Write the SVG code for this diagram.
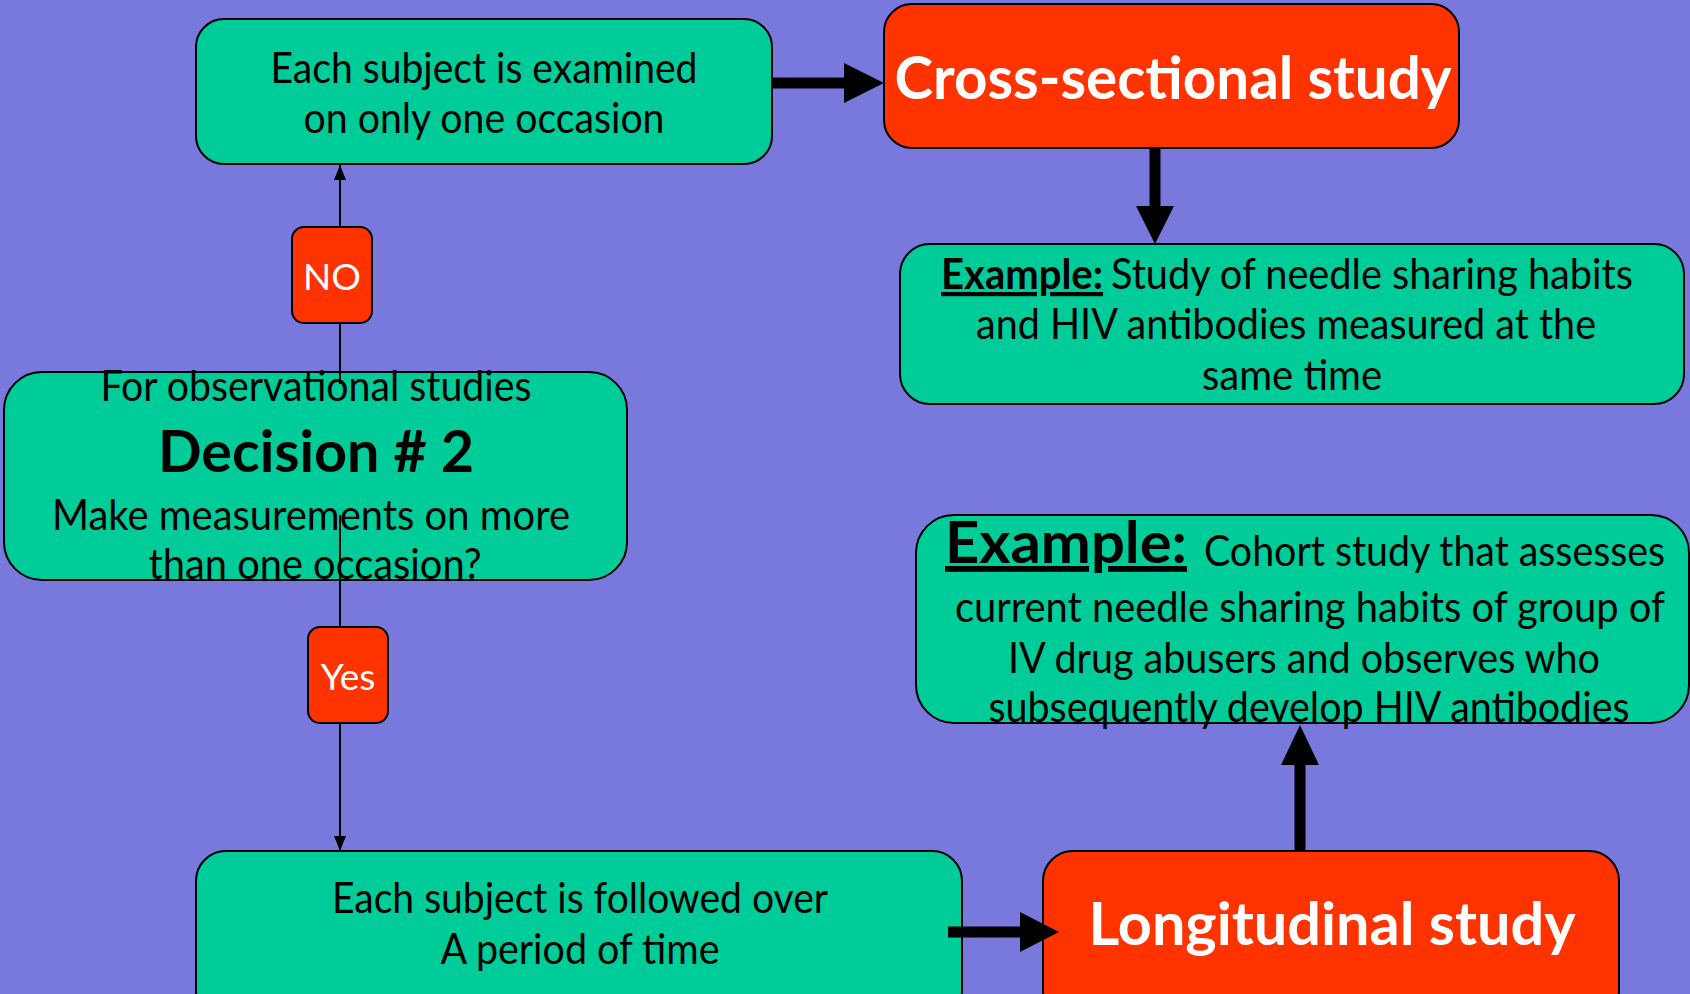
<svg xmlns="http://www.w3.org/2000/svg" width="1690" height="994" viewBox="0 0 1690 994">
<style>
.g{fill:#00CC99;stroke:#000;stroke-width:2}
.r{fill:#FF3300;stroke:#000;stroke-width:2}
text{font-family:Lato,"Open Sans","Liberation Sans",sans-serif}
.t{font-size:42px;fill:#000;text-anchor:middle}
.tl{font-size:42px;fill:#000}
.w{font-weight:bold;fill:#fff;text-anchor:middle;font-size:60px}
.s{font-size:37px;fill:#fff;text-anchor:middle}
.thin{stroke:#000;stroke-width:2;fill:none}
.thick{stroke:#000;stroke-width:11;fill:none}
</style>
<defs>
<marker id="sm" viewBox="0 0 10 10" refX="10" refY="5" markerWidth="15" markerHeight="12" orient="auto" markerUnits="userSpaceOnUse" preserveAspectRatio="none"><path d="M0,0L10,5L0,10z"/></marker>
</defs>
<rect width="1690" height="994" fill="#7878DD"/>

<g id="n1">
<rect class="g" x="196" y="19" width="576" height="145" rx="28"/>
<text class="t" x="484" y="83" textLength="427" lengthAdjust="spacingAndGlyphs">Each subject is examined</text>
<text class="t" x="484" y="133" textLength="361" lengthAdjust="spacingAndGlyphs">on only one occasion</text>
</g>

<g id="n2">
<rect class="r" x="884" y="4" width="575" height="144" rx="28"/>
<text class="w" x="1173" y="99" textLength="557" lengthAdjust="spacingAndGlyphs">Cross-sectional study</text>
</g>

<g id="n3">
<rect class="g" x="900" y="244" width="784" height="160" rx="30"/>
<text class="tl" x="941" y="289" font-weight="bold" text-decoration="underline" textLength="162" lengthAdjust="spacingAndGlyphs">Example:</text>
<text class="tl" x="1111" y="289" textLength="522" lengthAdjust="spacingAndGlyphs">Study of needle sharing habits</text>
<text class="t" x="1286" y="339" textLength="620" lengthAdjust="spacingAndGlyphs">and HIV antibodies measured at the</text>
<text class="t" x="1292" y="390" textLength="180" lengthAdjust="spacingAndGlyphs">same time</text>
</g>

<g id="n4">
<rect class="g" x="4" y="372" width="623" height="208" rx="38"/>
<text class="t" x="316" y="401" textLength="431" lengthAdjust="spacingAndGlyphs">For observational studies</text>
<text class="t" x="316" y="472" font-weight="bold" style="font-size:58px" textLength="316" lengthAdjust="spacingAndGlyphs">Decision # 2</text>
<text class="t" x="311" y="530" textLength="518" lengthAdjust="spacingAndGlyphs">Make measurements on more</text>
<text class="t" x="315" y="579" textLength="333" lengthAdjust="spacingAndGlyphs">than one occasion?</text>
</g>

<g id="n5">
<rect class="g" x="196" y="851" width="766" height="170" rx="30"/>
<text class="t" x="580" y="913" textLength="496" lengthAdjust="spacingAndGlyphs">Each subject is followed over</text>
<text class="t" x="580" y="964" textLength="279" lengthAdjust="spacingAndGlyphs">A period of time</text>
</g>

<g id="n6">
<rect class="r" x="1043" y="851" width="576" height="170" rx="30"/>
<text class="w" x="1332" y="945" textLength="487" lengthAdjust="spacingAndGlyphs">Longitudinal study</text>
</g>

<g id="n7">
<rect class="g" x="916" y="515" width="773" height="208" rx="38"/>
<text class="tl" x="945" y="563" font-weight="bold" text-decoration="underline" style="font-size:58px" textLength="242" lengthAdjust="spacingAndGlyphs">Example:</text>
<text class="tl" x="1204" y="566" textLength="461" lengthAdjust="spacingAndGlyphs">Cohort study that assesses</text>
<text class="t" x="1310" y="622" textLength="710" lengthAdjust="spacingAndGlyphs">current needle sharing habits of group of</text>
<text class="t" x="1304" y="673" textLength="592" lengthAdjust="spacingAndGlyphs">IV drug abusers and observes who</text>
<text class="t" x="1309" y="722" textLength="641" lengthAdjust="spacingAndGlyphs">subsequently develop HIV antibodies</text>
</g>

<g id="connectors">
<line class="thin" x1="340" y1="227" x2="340" y2="165" marker-end="url(#sm)"/>
<line class="thin" x1="340" y1="323" x2="340" y2="384"/>
<line class="thin" x1="340" y1="515" x2="340" y2="627"/>
<line class="thin" x1="340" y1="723" x2="340" y2="851" marker-end="url(#sm)"/>
<line class="thick" x1="772" y1="83" x2="848" y2="83"/>
<path d="M844,63L884,83L844,103z"/>
<line class="thick" x1="1155" y1="148" x2="1155" y2="210"/>
<path d="M1136,206L1155,244L1174,206z"/>
<line class="thick" x1="948" y1="932" x2="1024" y2="932"/>
<path d="M1020,912L1059,932L1020,952z"/>
<line class="thick" x1="1300" y1="851" x2="1300" y2="760"/>
<path d="M1281,765L1300,725L1319,765z"/>
</g>

<g id="NO">
<rect class="r" x="292" y="227" width="80" height="96" rx="12"/>
<text class="s" x="332" y="290">NO</text>
</g>
<g id="Yes">
<rect class="r" x="308" y="627" width="80" height="96" rx="12"/>
<text class="s" x="348" y="690">Yes</text>
</g>
</svg>
